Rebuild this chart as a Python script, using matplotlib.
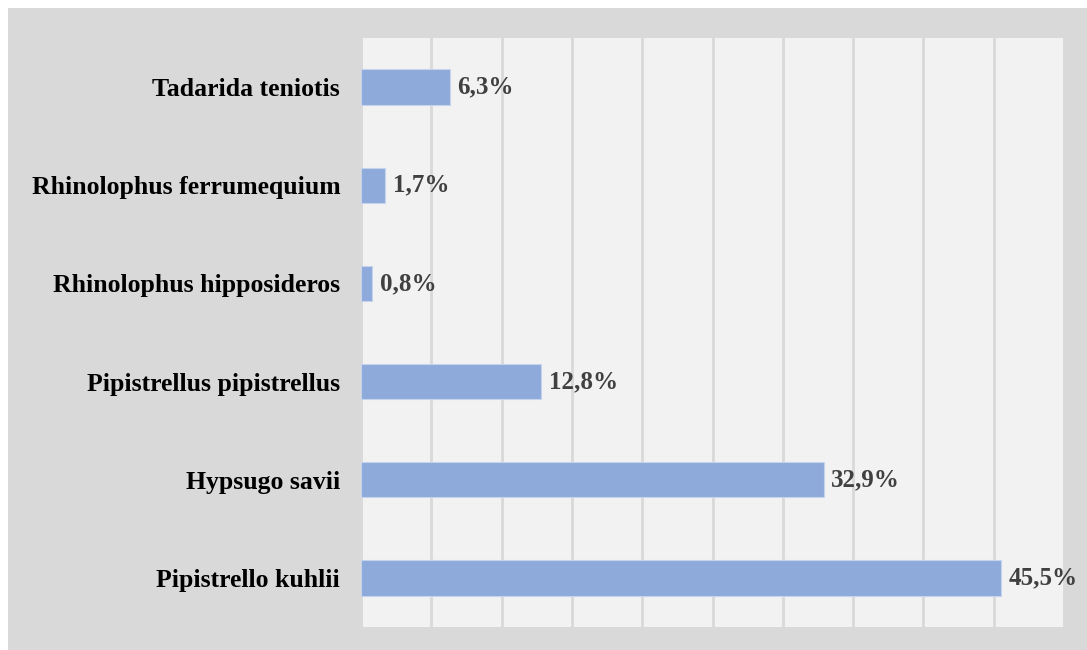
import matplotlib.pyplot as plt
from matplotlib.patches import Rectangle

species = ['Pipistrello kuhlii', 'Hypsugo savii', 'Pipistrellus pipistrellus',
           'Rhinolophus hipposideros', 'Rhinolophus ferrumequium', 'Tadarida teniotis']
percent = [45.5, 32.9, 12.8, 0.8, 1.7, 6.3]
value_labels = ['45,5%', '32,9%', '12,8%', '0,8%', '1,7%', '6,3%']

fig = plt.figure(figsize=(10.87, 6.5), dpi=100)
# gray chart area with thin white strip at top/left
fig.patches.append(Rectangle((8 / 1087, 0), 1 - 8 / 1087, 1 - 8 / 650,
                             transform=fig.transFigure, facecolor='#d9d9d9',
                             edgecolor='none', zorder=-10))

ax = fig.add_axes([361 / 1087, 23 / 650, 703 / 1087, 589 / 650])
ax.set_facecolor('#f2f2f2')

y = range(len(species))
ax.barh(y, percent, height=0.36, color='#8eaadb', edgecolor='#c5d3ec',
        linewidth=0.8, zorder=3)

for yi, v, lab in zip(y, percent, value_labels):
    ax.text(v + 0.55, yi, lab, va='center', ha='left', fontsize=18,
            fontweight='bold', color='#404040', family='Liberation Serif')

ax.set_xlim(0, 50)
ax.set_ylim(-0.5, len(species) - 0.5)
ax.set_xticks(range(0, 55, 5))
ax.xaxis.grid(True, color='#d9d9d9', linewidth=2, zorder=0)
ax.tick_params(axis='x', length=0, labelbottom=False)
ax.tick_params(axis='y', length=0, pad=15)
ax.set_yticks(list(y))
ax.set_yticklabels(species, fontsize=18.5, fontweight='bold',
                   family='Liberation Serif', color='black')
for s in ax.spines.values():
    s.set_visible(False)

fig.savefig('out.png', dpi=100)
